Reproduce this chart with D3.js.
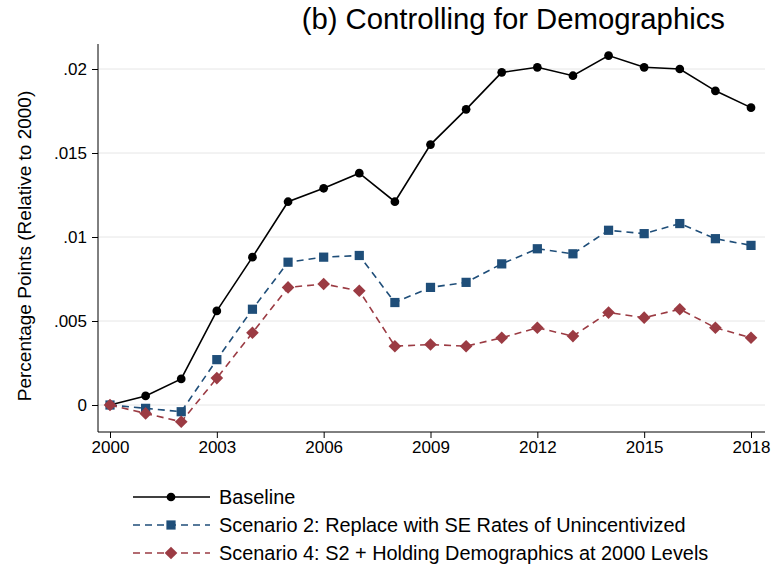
<!DOCTYPE html><html><head><script src="https://cdn.jsdelivr.net/npm/d3@7"></script>
<style>body{margin:0;background:#fff}text{font-family:Arial,"Liberation Sans",sans-serif}</style></head><body><svg id="c" width="783" height="569"></svg>
<script>
const years=d3.range(2000,2019);
const baseline=[0,.00054,.00155,.0056,.0088,.0121,.0129,.0138,.0121,.0155,.0176,.0198,.0201,.0196,.0208,.0201,.0200,.0187,.0177];
const scen2=[0,-.0002,-.0004,.0027,.0057,.0085,.0088,.0089,.0061,.0070,.0073,.0084,.0093,.0090,.0104,.0102,.0108,.0099,.0095];
const scen4=[0,-.0005,-.001,.0016,.0043,.0070,.0072,.0068,.0035,.0036,.0035,.0040,.0046,.0041,.0055,.0052,.0057,.0046,.0040];
const xTicks=[2000,2003,2006,2009,2012,2015,2018];
const yTicks=[0,.005,.01,.015,.02];
const yLabels=["0",".005",".01",".015",".02"];
const svg=d3.select("#c");
const x=d3.scaleLinear().domain([2000,2018]).range([110,751]);
const y=d3.scaleLinear().domain([0,.02]).range([405,69]);
const pTop=44,pBot=432,pLeft=98,pRight=765;
svg.append("g").selectAll("line").data(yTicks).join("line").attr("x1",pLeft).attr("x2",pRight).attr("y1",d=>y(d)).attr("y2",d=>y(d)).attr("stroke","#e6e6e6");
const ya=svg.append("g").attr("transform",`translate(${pLeft},0)`).call(d3.axisLeft(y).tickValues(yTicks).tickFormat((d,i)=>yLabels[i]).tickSize(6));
ya.select(".domain").attr("d",`M0,${pTop}V${pBot}`);
const xa=svg.append("g").attr("transform",`translate(0,${pBot})`).call(d3.axisBottom(x).tickValues(xTicks).tickFormat(d3.format("d")).tickSize(6));
xa.select(".domain").attr("d",`M${pLeft},0H${pRight}`);
svg.selectAll(".tick text").attr("font-size",17).attr("fill","#000");
ya.selectAll(".tick text").attr("dx",-2);
svg.append("text").attr("transform",`translate(31,${(pTop+pBot)/2+8}) rotate(-90)`).attr("text-anchor","middle").attr("font-size",19).text("Percentage Points (Relative to 2000)");
svg.append("text").attr("x",725).attr("y",29).attr("text-anchor","end").attr("font-size",29.3).text("(b) Controlling for Demographics");
const diamond={draw(ctx,size){const r=Math.sqrt(size/2);ctx.moveTo(0,-r);ctx.lineTo(r,0);ctx.lineTo(0,r);ctx.lineTo(-r,0);ctx.closePath();}};
const series=[{v:baseline,c:"#000",d:null,s:"circle"},{v:scen2,c:"#1f4e79",d:"7,5",s:"square"},{v:scen4,c:"#9b3b43",d:"7,5",s:"diamond"}];
const line=d3.line().x((d,i)=>x(years[i])).y(d=>y(d));
const sym={circle:d3.symbolCircle,square:d3.symbolSquare,diamond:diamond};
const sizes={circle:60,square:85,diamond:80};
series.forEach(s=>{
 svg.append("path").attr("d",line(s.v)).attr("fill","none").attr("stroke",s.c).attr("stroke-width",1.6).attr("stroke-dasharray",s.d);
 svg.append("g").selectAll("path").data(s.v).join("path").attr("transform",(d,i)=>`translate(${x(years[i])},${y(d)})`).attr("d",d3.symbol(sym[s.s],sizes[s.s])).attr("fill",s.c);
});
const labels=["Baseline","Scenario 2: Replace with SE Rates of Unincentivized","Scenario 4: S2 + Holding Demographics at 2000 Levels"];
labels.forEach((t,i)=>{
 const yy=497+i*28;const s=series[i];
 svg.append("line").attr("x1",133).attr("x2",210).attr("y1",yy).attr("y2",yy).attr("stroke",s.c).attr("stroke-width",1.6).attr("stroke-dasharray",s.d);
 svg.append("path").attr("transform",`translate(171,${yy})`).attr("d",d3.symbol(sym[s.s],sizes[s.s])).attr("fill",s.c);
 svg.append("text").attr("x",219).attr("y",yy+7).attr("font-size",19.9).text(t);
});
</script></body></html>
